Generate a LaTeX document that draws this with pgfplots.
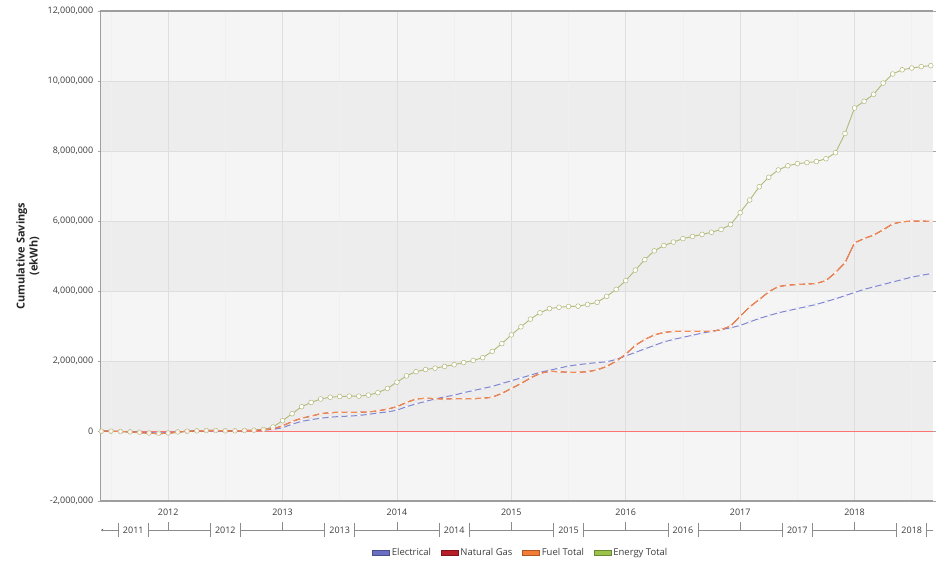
\documentclass[border=0pt]{standalone}
\usepackage{pgfplots}
\pgfplotsset{compat=1.18}
\usepackage{pgfplotstable}
\usepackage{fontspec}
\setmainfont{Open Sans}
\definecolor{elecL}{HTML}{8186D0}
\definecolor{elecF}{HTML}{6A6FC4}
\definecolor{gasL}{HTML}{C0392B}
\definecolor{gasF}{HTML}{B81D2A}
\definecolor{fuelL}{HTML}{EE8A52}
\definecolor{fuelF}{HTML}{F47C34}
\definecolor{enL}{HTML}{B3B978}
\definecolor{enF}{HTML}{9BC34A}
\definecolor{bandD}{HTML}{EDEDED}
\definecolor{bandL}{HTML}{F5F5F5}
\definecolor{txt}{HTML}{3C3C3C}

% month index (12 = Jan 2012), values in millions of ekWh
\pgfplotstableread{
m  elec  gas   fuel  energy
5  0     0     0     0
6  0     0     0     0
7  -0.01 -0.01 -0.01 -0.01
8  -0.02 -0.02 -0.02 -0.02
9  -0.03 -0.04 -0.04 -0.03
10 -0.04 -0.06 -0.06 -0.05
11 -0.05 -0.07 -0.07 -0.06
12 -0.04 -0.06 -0.06 -0.05
13 -0.02 -0.03 -0.03 -0.02
14 0     0     0     0
15 0.01  0.01  0.01  0.01
16 0.01  0.02  0.02  0.02
17 0.01  0.02  0.02  0.02
18 0.01  0.01  0.01  0.01
19 0.01  0.01  0.01  0.01
20 0.01  0.02  0.02  0.02
21 0.02  0.02  0.02  0.03
22 0.03  0.04  0.04  0.05
23 0.05  0.07  0.07  0.12
24 0.10  0.15  0.15  0.30
25 0.20  0.28  0.28  0.50
26 0.28  0.37  0.37  0.70
27 0.33  0.43  0.43  0.82
28 0.37  0.50  0.50  0.92
29 0.40  0.53  0.53  0.97
30 0.42  0.54  0.54  0.99
31 0.43  0.54  0.54  1.00
32 0.45  0.54  0.54  1.00
33 0.48  0.55  0.55  1.03
34 0.52  0.58  0.58  1.10
35 0.55  0.63  0.63  1.22
36 0.60  0.70  0.70  1.40
37 0.70  0.82  0.82  1.58
38 0.78  0.92  0.92  1.70
39 0.85  0.94  0.94  1.76
40 0.92  0.93  0.93  1.80
41 0.98  0.92  0.92  1.85
42 1.03  0.93  0.93  1.90
43 1.10  0.93  0.93  1.96
44 1.16  0.93  0.93  2.02
45 1.22  0.94  0.94  2.10
46 1.28  0.97  0.97  2.28
47 1.36  1.08  1.08  2.50
48 1.44  1.22  1.22  2.75
49 1.52  1.36  1.36  2.98
50 1.60  1.52  1.52  3.20
51 1.68  1.65  1.65  3.38
52 1.74  1.71  1.71  3.50
53 1.80  1.70  1.70  3.54
54 1.86  1.68  1.68  3.56
55 1.90  1.68  1.68  3.57
56 1.93  1.70  1.70  3.62
57 1.96  1.75  1.75  3.68
58 1.98  1.85  1.85  3.85
59 2.05  2.00  2.00  4.05
60 2.15  2.20  2.20  4.30
61 2.25  2.45  2.45  4.60
62 2.35  2.62  2.62  4.90
63 2.45  2.75  2.75  5.15
64 2.55  2.82  2.82  5.30
65 2.62  2.85  2.85  5.40
66 2.68  2.85  2.85  5.50
67 2.74  2.85  2.85  5.56
68 2.80  2.85  2.85  5.62
69 2.85  2.85  2.85  5.68
70 2.90  2.90  2.90  5.76
71 2.95  3.00  3.00  5.90
72 3.02  3.28  3.28  6.24
73 3.12  3.55  3.55  6.60
74 3.22  3.76  3.76  6.98
75 3.30  3.98  3.98  7.25
76 3.38  4.13  4.13  7.46
77 3.44  4.17  4.17  7.58
78 3.50  4.19  4.19  7.64
79 3.56  4.20  4.20  7.67
80 3.62  4.22  4.22  7.70
81 3.70  4.30  4.30  7.78
82 3.78  4.53  4.53  7.95
83 3.87  4.81  4.81  8.50
84 3.96  5.38  5.38  9.23
85 4.05  5.50  5.50  9.42
86 4.12  5.60  5.60  9.62
87 4.19  5.75  5.75  9.94
88 4.26  5.92  5.92  10.20
89 4.33  5.98  5.98  10.32
90 4.40  6.00  6.00  10.37
91 4.45  6.00  6.00  10.41
92 4.50  5.99  5.99  10.44
}\datatable

\begin{document}
\begin{tikzpicture}
\begin{axis}[
  set layers,
  scale only axis,
  width=835pt, height=492pt,
  xmin=4.92, xmax=92.2,
  ymin=-2, ymax=12,
  clip=false,
  axis line style={draw=none},
  xtick={12,24,36,48,60,72,84},
  xticklabels={2012,2013,2014,2015,2016,2017,2018},
  minor xtick={6,18,30,42,54,66,78,90},
  ytick={-2,0,2,4,6,8,10,12},
  yticklabels={{-2,000,000},{0},{2,000,000},{4,000,000},{6,000,000},{8,000,000},{10,000,000},{12,000,000}},
  xmajorgrids, xminorgrids, ymajorgrids,
  major grid style={draw=black!13, line width=0.6pt},
  minor grid style={draw=black!6, line width=0.6pt},
  x tick style={draw=none},
  minor x tick style={draw=none},
  y tick style={draw=black!35, line width=0.6pt},
  tick align=outside,
  major tick length=3pt,
  tick label style={font=\fontsize{9}{10.5}\selectfont, text=txt},
  xticklabel style={yshift=-1pt},
  yticklabel style={xshift=-1pt},
  ylabel={Cumulative Savings\\(ekWh)},
  every axis y label/.style={at={(rel axis cs:-0.0875,0.5)}, rotate=90, anchor=center,
    font=\bfseries\fontsize{11}{13}\selectfont, text=black!85, align=center},
  legend style={at={(rel axis cs:0.505,-0.0875)}, anchor=north, draw=none, fill=none,
    legend columns=4, font=\fontsize{9.5}{11}\selectfont, text=txt,
    /tikz/every even column/.append style={column sep=8pt}},
  legend cell align=left,
]
\begin{pgfonlayer}{axis background}
  \fill[bandL] (axis cs:4.92,-2) rectangle (axis cs:92.2,12);
  \fill[bandD] (axis cs:4.92,0) rectangle (axis cs:92.2,2);
  \fill[bandD] (axis cs:4.92,4) rectangle (axis cs:92.2,6);
  \fill[bandD] (axis cs:4.92,8) rectangle (axis cs:92.2,10);
\end{pgfonlayer}
\coordinate (bl) at (rel axis cs:0,0);
\coordinate (tr) at (rel axis cs:1,1);
% axis frame
\draw[black!38, line width=1.6pt] (rel axis cs:1,1) -- (rel axis cs:0,1) -- (rel axis cs:0,0) -- (rel axis cs:1,0);

\addlegendimage{area legend, fill=elecF, draw=elecF!70!black}
\addlegendentry{Electrical}
\addlegendimage{area legend, fill=gasF, draw=gasF!70!black}
\addlegendentry{Natural Gas}
\addlegendimage{area legend, fill=fuelF, draw=fuelF!70!black}
\addlegendentry{Fuel Total}
\addlegendimage{area legend, fill=enF, draw=enF!70!black}
\addlegendentry{Energy Total}

% zero line
\addplot[forget plot, draw=red!55, line width=0.8pt] coordinates {(4.92,0) (92.2,0)};

\addplot[forget plot, draw=enL, line width=0.9pt, mark=*, mark size=2.4pt,
  mark options={solid, fill=white, draw=enL, line width=0.5pt}] table[x=m, y=energy] {\datatable};
\addplot[forget plot, draw=elecL, line width=1.0pt, mark=*, mark size=1.7pt,
  mark options={solid, fill=white, draw=elecL!30, line width=0.3pt}] table[x=m, y=elec] {\datatable};
\addplot[forget plot, draw=gasL, line width=1.0pt, mark=*, mark size=1.7pt,
  mark options={solid, fill=white, draw=gasL!25, line width=0.3pt}] table[x=m, y=gas] {\datatable};
\addplot[forget plot, draw=fuelL, line width=1.0pt, mark=*, mark size=1.7pt,
  mark options={solid, fill=white, draw=fuelL!30, line width=0.3pt}] table[x=m, y=fuel] {\datatable};

% lower timeline
\begin{scope}[black!45, line width=0.7pt]
\fill[black!70] (axis cs:5.1,-2.825) circle (1.2pt);
\draw (axis cs:5.1,-2.825) -- (axis cs:6.77,-2.825);
\draw (axis cs:9.91,-2.825) -- (axis cs:16.43,-2.825);
\draw (axis cs:19.57,-2.825) -- (axis cs:28.43,-2.825);
\draw (axis cs:31.57,-2.825) -- (axis cs:40.43,-2.825);
\draw (axis cs:43.57,-2.825) -- (axis cs:52.43,-2.825);
\draw (axis cs:55.57,-2.825) -- (axis cs:64.43,-2.825);
\draw (axis cs:67.57,-2.825) -- (axis cs:76.43,-2.825);
\draw (axis cs:79.57,-2.825) -- (axis cs:88.43,-2.825);
\draw (axis cs:91.57,-2.825) -- (axis cs:92.2,-2.825);
\draw (axis cs:6.77,-2.625) -- (axis cs:6.77,-3.025);
\draw (axis cs:9.91,-2.625) -- (axis cs:9.91,-3.025);
\draw (axis cs:16.43,-2.625) -- (axis cs:16.43,-3.025);
\draw (axis cs:19.57,-2.625) -- (axis cs:19.57,-3.025);
\draw (axis cs:28.43,-2.625) -- (axis cs:28.43,-3.025);
\draw (axis cs:31.57,-2.625) -- (axis cs:31.57,-3.025);
\draw (axis cs:40.43,-2.625) -- (axis cs:40.43,-3.025);
\draw (axis cs:43.57,-2.625) -- (axis cs:43.57,-3.025);
\draw (axis cs:52.43,-2.625) -- (axis cs:52.43,-3.025);
\draw (axis cs:55.57,-2.625) -- (axis cs:55.57,-3.025);
\draw (axis cs:64.43,-2.625) -- (axis cs:64.43,-3.025);
\draw (axis cs:67.57,-2.625) -- (axis cs:67.57,-3.025);
\draw (axis cs:76.43,-2.625) -- (axis cs:76.43,-3.025);
\draw (axis cs:79.57,-2.625) -- (axis cs:79.57,-3.025);
\draw (axis cs:88.43,-2.625) -- (axis cs:88.43,-3.025);
\draw (axis cs:91.57,-2.625) -- (axis cs:91.57,-3.025);
\draw (axis cs:12,-2.825) -- (axis cs:12,-2.6);
\draw (axis cs:24,-2.825) -- (axis cs:24,-2.6);
\draw (axis cs:36,-2.825) -- (axis cs:36,-2.6);
\draw (axis cs:48,-2.825) -- (axis cs:48,-2.6);
\draw (axis cs:60,-2.825) -- (axis cs:60,-2.6);
\draw (axis cs:72,-2.825) -- (axis cs:72,-2.6);
\draw (axis cs:84,-2.825) -- (axis cs:84,-2.6);
\end{scope}
\begin{scope}[every node/.style={font=\fontsize{9}{10.5}\selectfont, text=txt, inner sep=0pt}]
\node at (axis cs:8.34,-2.825) {2011};
\node at (axis cs:18,-2.825) {2012};
\node at (axis cs:30,-2.825) {2013};
\node at (axis cs:42,-2.825) {2014};
\node at (axis cs:54,-2.825) {2015};
\node at (axis cs:66,-2.825) {2016};
\node at (axis cs:78,-2.825) {2017};
\node at (axis cs:90,-2.825) {2018};
\end{scope}
\end{axis}
\path[use as bounding box] ([shift={(-101pt,-62pt)}]bl) rectangle ([shift={(0pt,11pt)}]tr);
\end{tikzpicture}
\end{document}
